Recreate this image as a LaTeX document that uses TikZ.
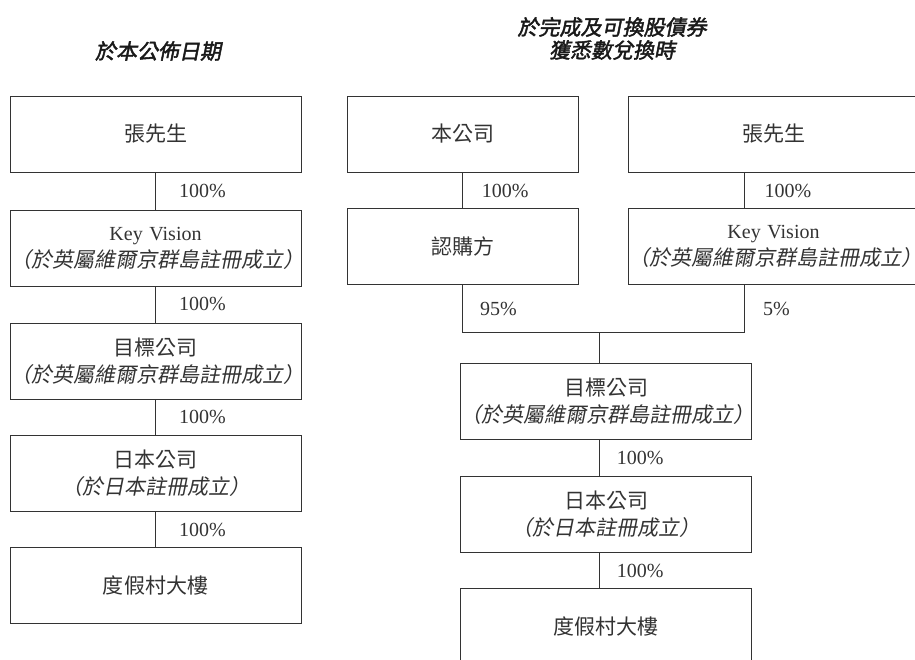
\documentclass[tikz,border=0pt]{standalone}
\usepackage{fontspec}
\setmainfont{Liberation Serif}
\newfontfamily\cjk{Noto Sans CJK TC}[Scale=1.05]
\newfontfamily\cjkit{Noto Sans CJK TC}[Scale=1.05,FakeSlant=0.2]
\newfontfamily\cjkbi{Noto Sans CJK TC}[Scale=1.05,FakeSlant=0.2,FakeBold=2]
\begin{document}
\begin{tikzpicture}[x=1pt,y=-1pt,
  box/.style={draw=black!80,line width=0.8pt,rectangle,inner sep=0pt,minimum height=76pt,align=center,font=\fontsize{20}{27}\selectfont,text=black!80},
  wide/.style={box,minimum width=291pt,text width=291pt},
  narrow/.style={box,minimum width=231pt,text width=231pt},
  link/.style={draw=black!80,line width=0.8pt},
  pct/.style={anchor=west,inner sep=0pt,font=\fontsize{20}{24}\selectfont,text=black!80},
  ttl/.style={align=center,inner sep=0pt,font=\fontsize{20}{23}\selectfont\cjkbi,text=black!90}]
\useasboundingbox (0,0) rectangle (915,660);
\clip (0,0) rectangle (915,660);

% titles
\node[ttl] (t1) at (158,51) {於本公佈日期};
\node[ttl] (t2) at (612,38.5) {於完成及可換股債券\\獲悉數兌換時};

% left column
\node[wide] (L1) at (155.5,134) {\cjk 張先生};
\node[wide] (L2) at (155.5,248) {Key Vision\\{\cjkit （於英屬維爾京群島註冊成立）}};
\node[wide] (L3) at (155.5,361) {{\cjk 目標公司}\\{\cjkit （於英屬維爾京群島註冊成立）}};
\node[wide] (L4) at (155.5,473) {{\cjk 日本公司}\\{\cjkit （於日本註冊成立）}};
\node[wide] (L5) at (155.5,585.7) {\cjk 度假村大樓};

\draw[link] (L1.south) -- (L2.north);
\draw[link] (L2.south) -- (L3.north);
\draw[link] (L3.south) -- (L4.north);
\draw[link] (L4.south) -- (L5.north);

\node[pct] (p1) at (179,191) {100\%};
\node[pct] (p2) at (179,304) {100\%};
\node[pct] (p3) at (179,417) {100\%};
\node[pct] (p4) at (179,529.5) {100\%};

% right part
\node[narrow] (R1) at (462.5,134) {\cjk 本公司};
\node[narrow] (R2) at (462.5,246.5) {\cjk 認購方};
\node[wide] (R3) at (773.5,134) {\cjk 張先生};
\node[wide] (R4) at (773.5,246.5) {Key Vision\hspace*{4pt}\\{\cjkit （於英屬維爾京群島註冊成立）}\hspace*{7pt}};
\node[wide] (T1) at (606,401.3) {{\cjk 目標公司}\\{\cjkit （於英屬維爾京群島註冊成立）}};
\node[wide] (T2) at (606,514) {{\cjk 日本公司}\\{\cjkit （於日本註冊成立）}};
\node[wide] (T3) at (606,626.3) {\cjk 度假村大樓};

\coordinate (kx) at (744,0);
\coordinate (jn) at (599.3,332.5);

\draw[link] (R1.south) -- (R2.north);
\draw[link] (R3.south -| kx) -- (R4.north -| kx);
\draw[link] (R2.south) |- (jn) -| (R4.south -| kx);
\draw[link] (jn) -- (T1.north -| jn);
\draw[link] (T1.south -| jn) -- (T2.north -| jn);
\draw[link] (T2.south -| jn) -- (T3.north -| jn);

\node[pct] (q1) at (481.7,190.5) {100\%};
\node[pct] (q2) at (764.3,190.5) {100\%};
\node[pct] (q3) at (480,309) {95\%};
\node[pct] (q4) at (763,309) {5\%};
\node[pct] (q5) at (616.7,458) {100\%};
\node[pct] (q6) at (616.7,571) {100\%};
\end{tikzpicture}
\end{document}
